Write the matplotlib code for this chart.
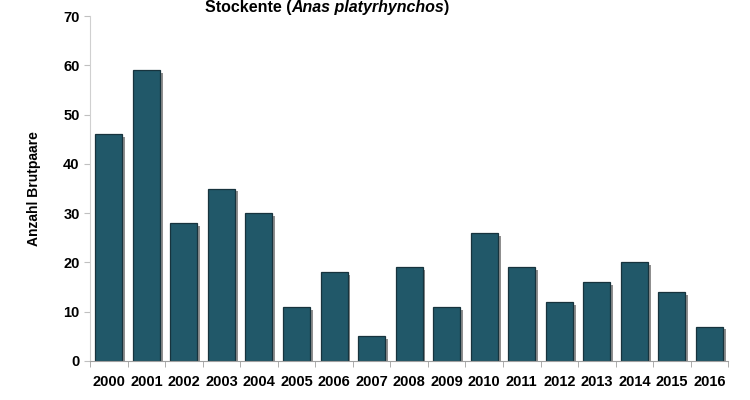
import numpy as np
from matplotlib import pyplot as plt
from matplotlib import patheffects as pe

plt.rcParams['font.family'] = ['Liberation Sans', 'DejaVu Sans']

years = ['2000', '2001', '2002', '2003', '2004', '2005', '2006', '2007', '2008',
         '2009', '2010', '2011', '2012', '2013', '2014', '2015', '2016']
pairs = [46, 59, 28, 35, 30, 11, 18, 5, 19, 11, 26, 19, 12, 16, 20, 14, 7]

fig = plt.figure(figsize=(7.5, 4), dpi=100)
ax = fig.add_axes([0.12, 0.0975, 0.851, 0.8625])

x = np.arange(len(years))
bars = ax.bar(x, pairs, width=0.72, color='#215869', edgecolor='#17333d', linewidth=0.9)
for b in bars:
    b.set_path_effects([pe.SimplePatchShadow(offset=(2, -2), shadow_rgbFace='#333333', alpha=0.55),
                        pe.Normal()])

ax.set_xlim(-0.5, len(years) - 0.5)
ax.set_ylim(0, 70)
ax.set_yticks(range(0, 71, 10))
ax.set_xticks(x)
ax.set_xticklabels(years, fontsize=10.5, fontweight='bold')
ax.set_xticks(np.arange(-0.5, len(years), 1), minor=True)
ax.tick_params(axis='x', which='major', length=0, pad=10)
ax.tick_params(axis='x', which='minor', length=4, color='#a0a0a0')
ax.tick_params(axis='y', length=4, color='#c0c0c0', labelsize=10.5)
for lbl in ax.get_yticklabels():
    lbl.set_fontweight('bold')

for s in ['top', 'right']:
    ax.spines[s].set_visible(False)
ax.spines['left'].set_color('#d0d0d0')
ax.spines['bottom'].set_color('#a0a0a0')

ax.set_ylabel('Anzahl Brutpaare', fontsize=10, fontweight='bold', labelpad=16)

# title with italic species name, pushed right up to the top edge
fig.canvas.draw()
r = fig.canvas.get_renderer()
parts = [('Stockente (', 'normal'), ('Anas platyrhynchos', 'italic'), (')', 'normal')]
texts = [fig.text(0, 0.999, t, fontsize=11.5, fontweight='bold', style=st, va='top')
         for t, st in parts]
widths = [t.get_window_extent(r).width for t in texts]
start = 327 - sum(widths) / 2
for t, w in zip(texts, widths):
    t.set_x(start / 750)
    start += w

fig.savefig('out.png', dpi=100)
